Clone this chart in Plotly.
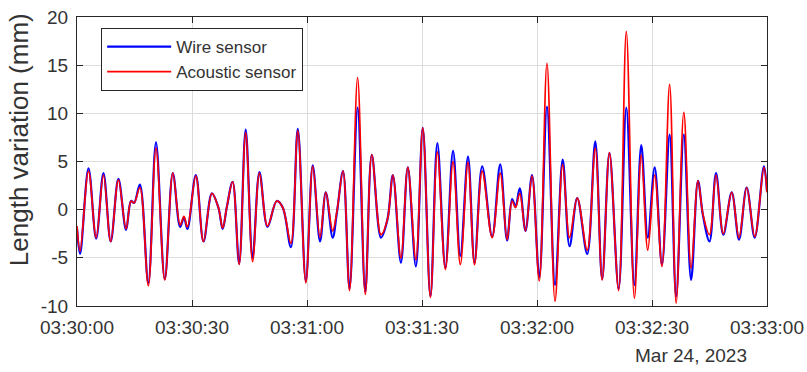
import pandas as pd
import plotly.graph_objects as go

# time offsets (seconds after 03:30:00) of the turning points
t_sec = [0.0, 0.8, 3.0, 5.0, 6.9, 8.8, 10.8, 12.8, 14.1, 14.9, 16.4, 18.6, 20.6, 22.9,
         25.0, 26.9, 27.9, 28.8, 31.0, 33.0, 35.2, 36.9, 38.0, 39.1, 40.6, 42.3, 44.0,
         45.8, 47.6, 49.7, 52.1, 53.7, 55.8, 57.6, 59.7, 61.5, 63.4, 64.9, 66.7, 67.8,
         69.4, 71.1, 73.2, 75.2, 76.9, 79.3, 81.0, 82.4, 84.5, 86.3, 88.4, 90.2, 92.2,
         94.0, 96.1, 98.1, 100.0, 102.0, 103.7, 105.7, 108.3, 110.4, 112.2, 113.5, 114.4,
         115.5, 117.0, 118.7, 120.6, 122.6, 124.7, 126.7, 128.5, 130.5, 133.1, 135.2,
         137.0, 138.9, 141.3, 143.3, 145.4, 147.2, 148.9, 150.7, 152.6, 154.6, 156.3,
         158.3, 160.2, 162.0, 163.3, 165.0, 166.7, 168.6, 170.8, 172.7, 174.7, 176.8,
         179.2, 180.0]

acoustic = [-1.7, -4.3, 4.0, -2.9, 3.6, -3.3, 3.1, -2.0, 0.9, 0.7, 2.3, -7.9, 6.4, -7.3,
            3.8, -1.6, -0.7, -1.8, 3.5, -3.3, 1.7, 0.2, -1.9, 0.3, 2.9, -5.7, 8.0,
            -5.4, 3.8, -1.7, 0.9, 0.2, -3.5, 8.2, -7.6, 4.5, -2.9, 1.8, -2.2, -0.2,
            4.0, -8.4, 13.7, -8.8, 5.7, -2.6, -1.0, 3.6, -5.0, 4.4, -5.2, 8.5, -9.1,
            6.0, -6.2, 5.0, -5.7, 4.9, -5.7, 4.0, -2.9, 3.8, -3.1, 0.9, 0.2,
            1.7, -2.2, 3.5, -7.4, 15.2, -9.5, 4.7, -2.9, 1.2, -4.2, 6.4,
            -7.3, 5.9, -8.4, 18.5, -9.2, 5.7, -4.2, 3.6, -5.9, 13.0, -9.7,
            10.1, -6.1, 3.0, -0.5, -2.6, 3.6, -2.5, 1.8, -2.9, 2.3, -2.8,
            4.4, 1.8]

wire = [-1.9, -4.6, 4.3, -3.0, 3.8, -3.3, 3.2, -2.1, 0.9, 0.7, 2.6, -7.6, 7.0, -7.2,
        3.8, -1.8, -0.8, -2.0, 3.6, -3.3, 1.7, 0.2, -2.0, 0.3, 2.9, -5.6, 8.3,
        -5.0, 3.9, -1.8, 0.9, 0.2, -3.9, 8.4, -7.4, 4.6, -3.3, 1.8, -2.9, -0.3,
        4.0, -8.2, 10.6, -8.5, 5.7, -2.9, -1.0, 3.6, -5.5, 4.4, -5.9, 8.5, -9.0,
        6.9, -6.0, 6.1, -4.8, 5.5, -5.5, 4.5, -2.8, 4.7, -3.2, 1.1, 0.3,
        2.2, -2.2, 3.6, -7.0, 10.7, -7.8, 5.2, -3.8, 1.2, -4.6, 7.1,
        -7.2, 5.9, -8.2, 10.6, -7.8, 6.7, -2.9, 4.4, -5.7, 7.8, -9.0,
        7.8, -7.3, 3.0, -0.6, -3.3, 3.8, -2.6, 1.8, -3.1, 2.3, -2.9,
        4.5, 1.9]

start_time = "2023-03-24 03:30:00"
end_time = "2023-03-24 03:33:00"
y_ticks = [-10, -5, 0, 5, 10, 15, 20]
y_ticklabels = ["-10", "-5", "0", "5", "10", "15", "20"]
x_tick_times = ["03:30:00", "03:30:30", "03:31:00", "03:31:30", "03:32:00", "03:32:30", "03:33:00"]

times = pd.Timestamp(start_time) + pd.to_timedelta(t_sec, unit="s")
x_tickvals = [pd.Timestamp("2023-03-24 " + s) for s in x_tick_times]

FONT = "Liberation Sans, Arial, sans-serif"
TXT = "#333333"

fig = go.Figure()
fig.add_trace(go.Scatter(x=times, y=wire, mode="lines", name="Wire sensor",
                         line=dict(color="#0000ff", width=2.2, shape="spline", smoothing=1.0)))
fig.add_trace(go.Scatter(x=times, y=acoustic, mode="lines", name="Acoustic sensor",
                         line=dict(color="#ff0000", width=1.7, shape="spline", smoothing=1.0)))

axis_common = dict(showline=True, linecolor="#262626", linewidth=1, mirror="ticks",
                   ticks="inside", ticklen=6, tickcolor="#262626", automargin=False,
                   showgrid=True, gridcolor="#dcdcdc", gridwidth=1, zeroline=False,
                   tickfont=dict(family=FONT, size=19, color=TXT))

fig.update_layout(
    width=807, height=372,
    margin=dict(l=77, r=40, t=17, b=66, autoexpand=False),
    paper_bgcolor="white", plot_bgcolor="white",
    showlegend=True,
    legend=dict(x=0.035, y=0.962, xanchor="left", yanchor="top",
                bgcolor="white", bordercolor="#262626", borderwidth=1,
                font=dict(family=FONT, size=17, color=TXT),
                itemwidth=64, tracegroupgap=0),
    xaxis=dict(type="date", range=[start_time, end_time],
               tickvals=x_tickvals, ticktext=x_tick_times,
               ticklabelstandoff=4, **axis_common),
    yaxis=dict(range=[-10, 20], tickvals=y_ticks, ticktext=y_ticklabels,
               ticklabelstandoff=4, **axis_common),
)

fig.add_annotation(text="Length variation (mm)", xref="paper", yref="paper",
                   x=-0.085, y=0.575, xanchor="center", yanchor="middle",
                   textangle=-90, showarrow=False,
                   font=dict(family=FONT, size=26, color=TXT))
fig.add_annotation(text="Mar 24, 2023", xref="paper", yref="paper",
                   x=(691 - 77) / 690, y=(306 - 355.5) / 289, xanchor="center", yanchor="middle",
                   showarrow=False, font=dict(family=FONT, size=19, color=TXT))

fig.write_html("out.html")
